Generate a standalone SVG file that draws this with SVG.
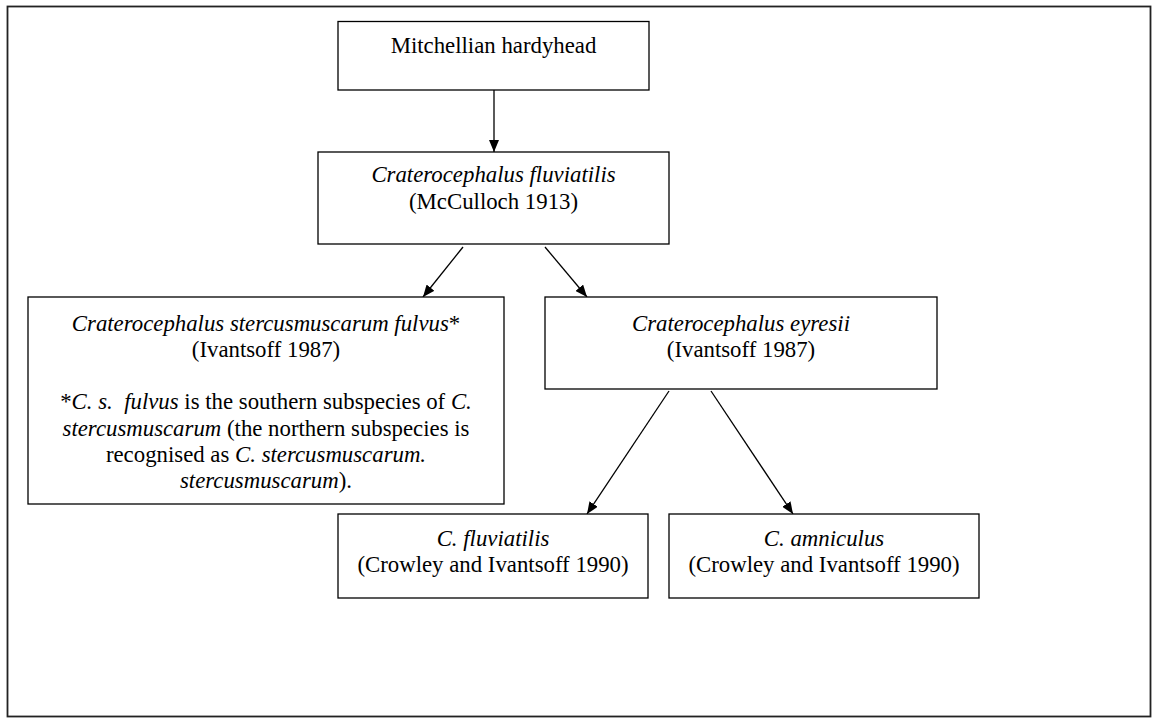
<svg xmlns="http://www.w3.org/2000/svg" width="1157" height="723" viewBox="0 0 1157 723">
<defs>
<style>
.frame{fill:none;stroke:#222;stroke-width:1.8}
.box{fill:#fff;stroke:#000;stroke-width:1.3}
.t{font-family:"Liberation Serif","Times New Roman",serif;font-size:22.8px;fill:#000;text-anchor:middle;white-space:pre}
.i{font-style:italic}
.conn{stroke:#000;stroke-width:1.3;fill:none;marker-end:url(#ah)}
</style>
<marker id="ah" viewBox="0 0 12 10" refX="12" refY="5" markerWidth="12" markerHeight="10" markerUnits="userSpaceOnUse" orient="auto">
<path d="M0,0 L12,5 L0,10 Z" fill="#000"/>
</marker>
</defs>
<rect width="1157" height="723" fill="#fff"/>
<rect class="frame" x="7.5" y="6.5" width="1143" height="710"/>
<g id="connectors">
<line class="conn" x1="494" y1="90" x2="494" y2="152"/>
<line class="conn" x1="463" y1="247" x2="423" y2="297"/>
<line class="conn" x1="545" y1="247" x2="587" y2="297"/>
<line class="conn" x1="669" y1="391" x2="587" y2="514"/>
<line class="conn" x1="711" y1="391" x2="793" y2="514"/>
</g>
<g id="n1">
<rect class="box" x="338" y="21.5" width="311" height="68.5"/>
<text class="t" x="493.5" y="53">Mitchellian hardyhead</text>
</g>
<g id="n2">
<rect class="box" x="318" y="152" width="351" height="92"/>
<text class="t" x="493.5" y="182"><tspan class="i">Craterocephalus fluviatilis</tspan></text>
<text class="t" x="493.5" y="209">(McCulloch 1913)</text>
</g>
<g id="n3">
<rect class="box" x="28" y="297" width="476" height="207"/>
<text class="t" x="266" y="331"><tspan class="i">Craterocephalus stercusmuscarum fulvus</tspan>*</text>
<text class="t" x="266" y="357">(Ivantsoff 1987)</text>
<text class="t" x="266" y="409">*<tspan class="i">C. s.  fulvus</tspan> is the southern subspecies of <tspan class="i">C.</tspan></text>
<text class="t" x="266" y="436"><tspan class="i">stercusmuscarum</tspan> (the northern subspecies is</text>
<text class="t" x="266" y="462">recognised as <tspan class="i">C. stercusmuscarum.</tspan></text>
<text class="t" x="266" y="488"><tspan class="i">stercusmuscarum</tspan>).</text>
</g>
<g id="n4">
<rect class="box" x="545" y="297" width="392" height="92"/>
<text class="t" x="741" y="331"><tspan class="i">Craterocephalus eyresii</tspan></text>
<text class="t" x="741" y="357">(Ivantsoff 1987)</text>
</g>
<g id="n5">
<rect class="box" x="338" y="514" width="310" height="84"/>
<text class="t" x="493" y="546"><tspan class="i">C. fluviatilis</tspan></text>
<text class="t" x="493" y="572">(Crowley and Ivantsoff 1990)</text>
</g>
<g id="n6">
<rect class="box" x="669" y="514" width="310" height="84"/>
<text class="t" x="824" y="546"><tspan class="i">C. amniculus</tspan></text>
<text class="t" x="824" y="572">(Crowley and Ivantsoff 1990)</text>
</g>
</svg>
